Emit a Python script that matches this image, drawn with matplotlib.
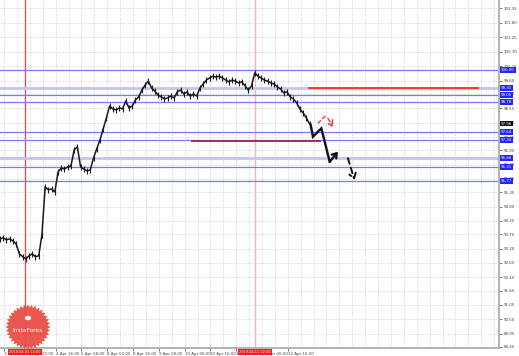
import matplotlib
matplotlib.use("Agg")
import matplotlib.pyplot as plt
import matplotlib.transforms as mtrans
from matplotlib.patches import Polygon, Circle
import numpy as np

# closes every 2 hours (H1 chart)
close = [93.57, 93.61, 93.53, 93.57, 93.49, 93.38, 93.00, 92.89, 92.81, 92.92,
         93.00, 92.89, 92.92, 93.72, 95.55, 95.44, 95.47, 95.36, 96.12, 96.27,
         96.23, 96.31, 96.35, 96.96, 97.07, 96.31, 96.23, 96.16, 96.20, 96.65,
         97.00, 97.34, 97.76, 98.18, 98.63, 98.52, 98.48, 98.56, 98.52, 98.82,
         98.56, 98.63, 98.86, 98.98, 99.24, 99.43, 99.58, 99.32, 99.20, 99.05,
         98.98, 98.90, 98.94, 99.01, 98.94, 99.17, 99.24, 99.09, 99.17, 99.01,
         99.09, 99.01, 99.32, 99.47, 99.62, 99.70, 99.77, 99.73, 99.77, 99.70,
         99.62, 99.55, 99.62, 99.58, 99.51, 99.55, 99.40, 99.24, 99.40, 99.89,
         99.77, 99.70, 99.62, 99.58, 99.51, 99.47, 99.36, 99.28, 99.13, 99.17,
         98.98, 98.90, 98.75, 98.52, 98.37, 98.18, 97.95]
step_hours = 2
last_price = 97.96

levels = [100.00, 99.05, 98.78, 97.64, 97.34, 96.31, 95.77]
zone_levels = [99.31, 96.66]

# target / resistance marks
red_level = 99.30
red_from, red_to = 190.8, 297.4
maroon_level = 97.31
maroon_from, maroon_to = 118.3, 199.3

# hand drawn forecast
fc_x = [192.7, 194.1, 199.3, 204.5, 209.6]
fc_y = [97.91, 97.46, 97.78, 96.51, 96.89]
fc2_x = [215.8, 219.9]
fc2_y = [96.64, 95.81]
alt1_x = [197.2, 202.4]
alt1_y = [97.97, 98.29]
alt2_x = [203.4, 206.5]
alt2_y = [98.16, 97.84]

event_hours = [15.5, 158.2]
event_labels = ["2019.04.03 15:00", "2019.04.11 12:00"]

xtick_labels = ["3 Apr 2019", "4 Apr 00:00", "4 Apr 16:00", "5 Apr 08:00",
                "8 Apr 00:00", "8 Apr 16:00", "9 Apr 08:00", "10 Apr 00:00",
                "10 Apr 16:00", "11 Apr 08:00", "12 Apr 00:00", "12 Apr 16:00"]
xtick_hours = [2.5, 18.5, 34.5, 50.5, 66.5, 82.5, 98.5, 114.5,
               130.5, 146.5, 162.5, 178.5]
ytick_labels = ["89.45", "89.95", "90.50", "91.05", "91.60", "92.10", "92.65",
                "93.20", "93.75", "94.25", "94.80", "95.35", "95.85", "96.40",
                "96.95", "97.45", "98.00", "98.55", "99.10", "99.60", "100.15",
                "100.70", "101.25", "101.80", "102.35"]

W, H = 519, 356
fig = plt.figure(figsize=(W / 100, H / 100), dpi=100)
fig.patch.set_facecolor("white")
ax = fig.add_axes([0, 1 - 347.5 / H, 499 / W, 347.5 / H])
ax.set_xlim(0, 309.5)
ax.set_ylim(89.43, 102.67)

# grid
for lab in ytick_labels:
    ax.axhline(float(lab), color="#d4d4d4", lw=0.6, ls=(0, (1.5, 1.5)), zorder=0)
for g in np.arange(2.5, 310, 8):
    ax.axvline(g, color="#d4d4d4", lw=0.6, ls=(0, (1.5, 1.5)), zorder=0)

# event lines
ax.axvline(event_hours[0], color="#ff3c3c", lw=0.9, zorder=1)
ax.axvline(event_hours[1], color="#ffb0b0", lw=1.0, zorder=1)

# levels
for lv in zone_levels:
    ax.axhline(lv, color="#c4c4f4", lw=2.0, zorder=2)
for lv in levels:
    ax.axhline(lv, color="#7878ff", lw=0.9, zorder=2)

ax.hlines(red_level, red_from, red_to, color="#ff2828", lw=1.3, zorder=3)
ax.hlines(maroon_level, maroon_from, maroon_to, color="#b01c50", lw=1.3, zorder=3)

# price
hours = np.arange(len(close)) * step_hours
ax.plot(hours, close, color="#1a1a1a", lw=1.1, marker="|", ms=5, mew=0.8,
        zorder=4)

# forecast
ax.plot(fc_x[:-1], fc_y[:-1], color="#111111", lw=1.7, zorder=5,
        solid_joinstyle="miter")
ax.annotate("", xy=(fc_x[-1], fc_y[-1]), xytext=(fc_x[-2], fc_y[-2]),
            arrowprops=dict(arrowstyle="->,head_length=0.5,head_width=0.35",
                            color="#111111", lw=1.7, shrinkA=0, shrinkB=0,
                            mutation_scale=6), zorder=5)
ax.annotate("", xy=(fc2_x[-1], fc2_y[-1]), xytext=(fc2_x[0], fc2_y[0]),
            arrowprops=dict(arrowstyle="->,head_length=0.6,head_width=0.4",
                            color="#111111", lw=1.4, ls=(0, (3, 2)), shrinkA=0,
                            shrinkB=0, mutation_scale=6), zorder=5)
ax.plot(alt1_x, alt1_y, color="#ff3030", lw=1.0, ls=(0, (3, 1.5)), zorder=5)
ax.annotate("", xy=(alt2_x[-1], alt2_y[-1]), xytext=(alt2_x[0], alt2_y[0]),
            arrowprops=dict(arrowstyle="->,head_length=0.6,head_width=0.4",
                            color="#ff3030", lw=1.0, ls=(0, (3, 1.5)),
                            shrinkA=0, shrinkB=0, mutation_scale=6), zorder=5)

# axes look
for s in ["left", "top"]:
    ax.spines[s].set_visible(False)
for s in ["right", "bottom"]:
    ax.spines[s].set_color("#a8a8a8")
    ax.spines[s].set_linewidth(1.2)
ax.yaxis.tick_right()
ax.set_yticks([float(v) for v in ytick_labels])
ax.set_yticklabels(ytick_labels)
ax.set_xticks(xtick_hours)
ax.set_xticklabels(xtick_labels, ha="left")
ax.tick_params(axis="both", labelsize=2.9, colors="#444444", length=2,
               width=0.5, pad=1)
ax.tick_params(axis="y", pad=1.5)

# right side price tags
ytr = mtrans.blended_transform_factory(ax.transAxes, ax.transData)
for lv in levels + zone_levels:
    ax.text(1.004, lv, "%.2f" % lv, transform=ytr, ha="left", va="center",
            fontsize=2.9, color="white", clip_on=False, zorder=10,
            bbox=dict(boxstyle="square,pad=0.2", fc="#2424ff", ec="none"))
ax.text(1.004, last_price, "%.2f" % last_price, transform=ytr, ha="left",
        va="center", fontsize=2.9, color="white", clip_on=False, zorder=10,
        bbox=dict(boxstyle="square,pad=0.2", fc="#111111", ec="none"))

# event date tags on the time axis
xtr = mtrans.blended_transform_factory(ax.transData, ax.transAxes)
for hx, lab in zip(event_hours, event_labels):
    ax.text(hx, -0.0075, lab, transform=xtr, ha="center", va="top",
            fontsize=2.5, color="white", clip_on=False, zorder=10,
            bbox=dict(boxstyle="square,pad=0.3", fc="#ff1a1a", ec="none"))

# InstaForex badge
cx, cy = 28 / W, (H - 327) / H
n = 36
ang = np.linspace(0, 2 * np.pi, 2 * n, endpoint=False)
rad = np.where(np.arange(2 * n) % 2 == 0, 22.5, 19.5)
pts = np.column_stack([cx + rad * np.cos(ang) / W, cy + rad * np.sin(ang) / H])
fig.patches.append(Polygon(pts, closed=True, transform=fig.transFigure,
                           fc="#ea4a44", ec="none", alpha=0.93, zorder=20))
fig.patches.append(Circle((cx, cy + 9 / H), 3.2 / W, transform=fig.transFigure,
                          fc="white", ec="none", zorder=21))
fig.text(cx, cy - 4 / H, "InstaForex", ha="center", va="center", fontsize=4.2,
         color="white", zorder=22)

fig.savefig("out.png", dpi=100)
